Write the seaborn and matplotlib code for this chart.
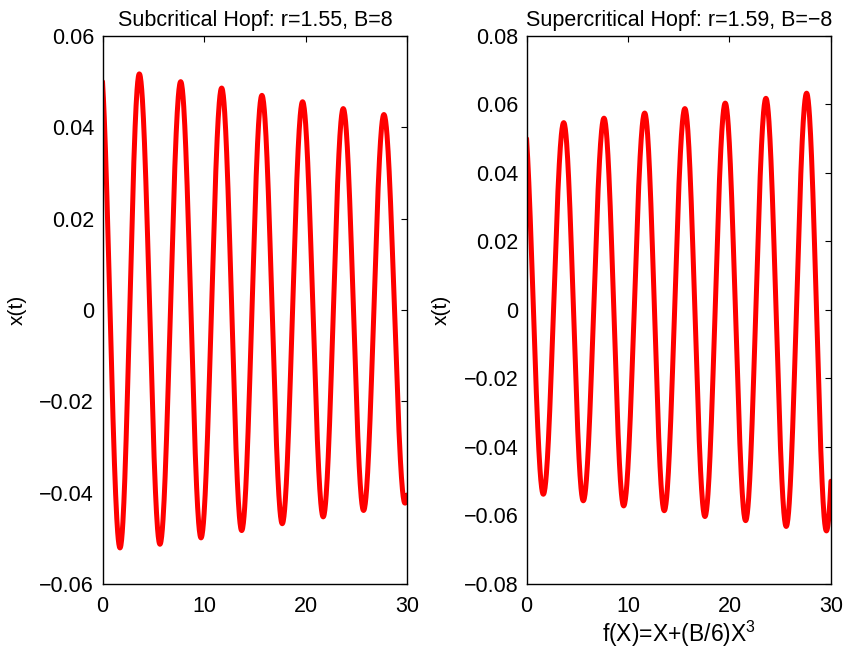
import numpy as np
import pandas as pd
import matplotlib
matplotlib.use("Agg")
import matplotlib.pyplot as plt
import seaborn as sns

# ---- data (extrema of x(t)) ----
sub_t = [0.0, 1.72, 3.62, 5.65, 7.69, 9.69, 11.72, 13.69, 15.68, 17.68, 19.68, 21.71, 23.68, 25.68, 27.68, 29.75, 30.0]
sub_x = [0.0500, -0.0521, 0.0517, -0.0513, 0.0500, -0.0499, 0.0486, -0.0483, 0.0470, -0.0468, 0.0456, -0.0453, 0.0441, -0.0439, 0.0428, -0.0423, -0.0405]

sup_t = [0.0, 1.65, 3.66, 5.59, 7.63, 9.57, 11.64, 13.57, 15.60, 17.58, 19.58, 21.59, 23.59, 25.59, 27.60, 29.55, 30.0]
sup_x = [0.0500, -0.0538, 0.0547, -0.0557, 0.0560, -0.0572, 0.0575, -0.0586, 0.0588, -0.0603, 0.0604, -0.0615, 0.0618, -0.0632, 0.0633, -0.0645, -0.0500]

titles = ["Subcritical Hopf: r=1.55, B=8", "Supercritical Hopf: r=1.59, B=\u22128"]
ylims = [(-0.06, 0.06), (-0.08, 0.08)]
yticks = [[-0.06, -0.04, -0.02, 0, 0.02, 0.04, 0.06],
          [-0.08, -0.06, -0.04, -0.02, 0, 0.02, 0.04, 0.06, 0.08]]
xticks = [0, 10, 20, 30]
xlabel_right = "f(X)=X+(B/6)X$^3$"


def smooth_path(tk, vk, n=60):
    """Smooth curve through the read extrema (cosine easing between key points)."""
    tk = np.asarray(tk, float)
    vk = np.asarray(vk, float)
    half = np.median(np.diff(tk[1:-1]))
    ts, vs = [], []
    for i in range(len(tk) - 1):
        t0, t1, v0, v1 = tk[i], tk[i + 1], vk[i], vk[i + 1]
        s = np.linspace(0, 1, n, endpoint=False)
        if i == len(tk) - 2:
            s = np.linspace(0, 1, n + 1)
            f = (t1 - t0) / half
            w = (1 - np.cos(np.pi * f * s)) / (1 - np.cos(np.pi * f))
        elif i == 0:
            f = (t1 - t0) / half
            ph0 = 1 - f
            w = (np.cos(np.pi * ph0) - np.cos(np.pi * (ph0 + f * s))) / (np.cos(np.pi * ph0) + 1)
        else:
            w = (1 - np.cos(np.pi * s)) / 2
        ts.append(t0 + (t1 - t0) * s)
        vs.append(v0 + (v1 - v0) * w)
    return np.concatenate(ts), np.concatenate(vs)


sns.set_theme(style="white")
plt.rcParams["font.family"] = ["Liberation Sans", "DejaVu Sans"]
plt.rcParams["mathtext.fontset"] = "custom"
plt.rcParams["mathtext.rm"] = "Liberation Sans"
plt.rcParams["axes.unicode_minus"] = True
for key in ["text.color", "axes.labelcolor", "xtick.color", "ytick.color"]:
    plt.rcParams[key] = "black"

fig = plt.figure(figsize=(8.5, 6.52), dpi=100)
ax1 = fig.add_axes([0.1206, 0.1043, 0.3588, 0.8405])
ax2 = fig.add_axes([0.6195, 0.1043, 0.3581, 0.8405])

for k, (ax, tk, vk) in enumerate([(ax1, sub_t, sub_x), (ax2, sup_t, sup_x)]):
    t, x = smooth_path(tk, vk)
    df = pd.DataFrame({"t": t, "x": x})
    sns.lineplot(data=df, x="t", y="x", ax=ax, color="#ff0000", linewidth=3.6,
                 sort=False, estimator=None)
    ax.set_xlim(0, 30)
    ax.set_ylim(*ylims[k])
    ax.set_xticks(xticks)
    ax.set_yticks(yticks[k])
    ax.set_yticklabels(["0" if v == 0 else f"{v:.2f}".replace("-", "\u2212") for v in yticks[k]])
    ax.set_xticklabels([str(v) for v in xticks])
    ax.tick_params(direction="in", length=4.5, width=0.8, top=True, right=True,
                   labelsize=15.5, colors="black", pad=6)
    ax.tick_params(axis="x", pad=9)
    for sp in ax.spines.values():
        sp.set_visible(True)
        sp.set_color("black")
        sp.set_linewidth(1.0)
    ax.set_ylabel("x(t)", fontsize=15, labelpad=9, color="black")
    ax.set_xlabel("")
    ax.set_title(titles[k], fontsize=15.5, pad=7, color="black")
    ax.set_facecolor("white")

ax2.set_xlabel(xlabel_right, fontsize=16.5, labelpad=1, color="black")

fig.savefig("out.png", dpi=100, facecolor="white")
